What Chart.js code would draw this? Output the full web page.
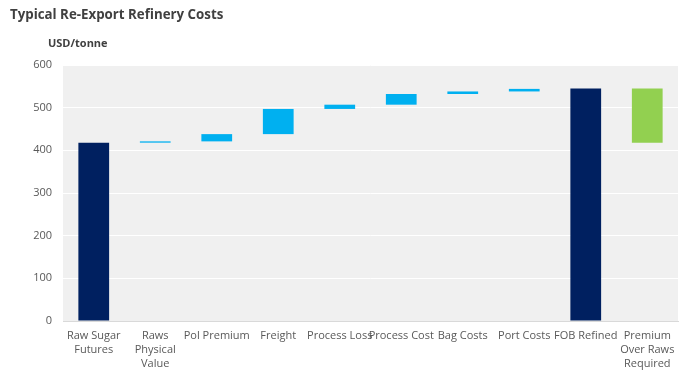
<!DOCTYPE html>
<html>
<head>
<meta charset="utf-8">
<script src="https://cdn.jsdelivr.net/npm/chart.js@4"></script>
<style>
  body { margin: 0; background: #fff; font-family: "Open Sans", sans-serif; }
  #wrap { position: relative; width: 698px; height: 379px; }
  #title { position: absolute; left: 10px; top: 5px; font-size: 13.3px; font-weight: bold; color: #404040; }
  #unit { position: absolute; left: 48px; top: 35px; font-size: 11px; font-weight: bold; color: #404040; }
  canvas { position: absolute; left: 0; top: 0; }
</style>
</head>
<body>
<div id="wrap">
  <canvas id="chart" width="698" height="379"></canvas>
  <div id="title">Typical Re-Export Refinery Costs</div>
  <div id="unit">USD/tonne</div>
</div>
<script>
const categories = [
  ["Raw Sugar", "Futures"],
  ["Raws", "Physical", "Value"],
  "Pol Premium",
  "Freight",
  "Process Loss",
  "Process Cost",
  "Bag Costs",
  "Port Costs",
  "FOB Refined",
  ["Premium", "Over Raws", "Required"]
]
const barBottoms = [0, 418, 421, 438, 497, 507, 532, 538, 0, 418]
const barTops = [418, 421, 438, 497, 507, 532, 538, 544, 545, 545]
const barColors = ["#002060", "#00b0f0", "#00b0f0", "#00b0f0", "#00b0f0", "#00b0f0", "#00b0f0", "#00b0f0", "#002060", "#92d050"]
const yTicks = [0, 100, 200, 300, 400, 500, 600]

const plotBackground = {
  id: "plotBackground",
  beforeDraw(chart) {
    const { ctx, chartArea } = chart
    ctx.save()
    ctx.fillStyle = "#f0f0f0"
    ctx.fillRect(chartArea.left, chartArea.top, chartArea.right - chartArea.left, chartArea.bottom - chartArea.top)
    ctx.restore()
  }
}

new Chart(document.getElementById("chart").getContext("2d"), {
  type: "bar",
  data: {
    labels: categories,
    datasets: [{
      data: barBottoms.map((b, i) => [b, barTops[i]]),
      backgroundColor: barColors,
      borderWidth: 0,
      borderSkipped: false,
      categoryPercentage: 1,
      barPercentage: 0.5
    }]
  },
  options: {
    responsive: false,
    animation: false,
    layout: { padding: { top: 65, right: 20, left: 0, bottom: 0 } },
    plugins: { legend: { display: false }, tooltip: { enabled: false } },
    scales: {
      y: {
        min: 0,
        max: 600,
        afterFit(scale) { scale.width = 63 },
        afterBuildTicks(scale) { scale.ticks = yTicks.map(v => ({ value: v })) },
        grid: { color: "#ffffff", lineWidth: 1, drawTicks: false },
        border: { display: false },
        ticks: { padding: 11, color: "#595959", font: { family: "Open Sans", size: 11 } }
      },
      x: {
        afterFit(scale) { scale.height = 58 },
        grid: { display: false, drawTicks: false },
        border: { display: true, color: "#d9d9d9" },
        ticks: {
          padding: 8,
          maxRotation: 0,
          autoSkip: false,
          color: "#595959",
          font: { family: "Open Sans", size: 11, lineHeight: 1.27 }
        }
      }
    }
  },
  plugins: [plotBackground]
})
</script>
</body>
</html>
